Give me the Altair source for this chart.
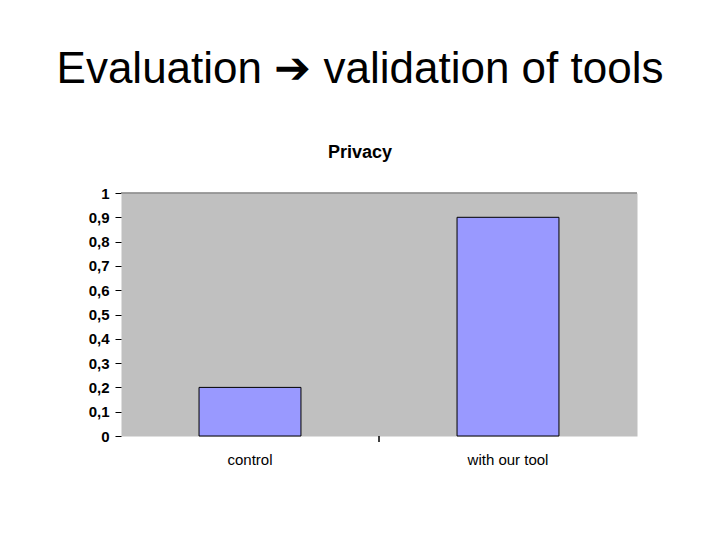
import altair as alt
import pandas as pd

categories = ["control", "with our tool"]
values = [0.2, 0.9]
y_ticks = [0, 0.1, 0.2, 0.3, 0.4, 0.5, 0.6, 0.7, 0.8, 0.9, 1]

df = pd.DataFrame({"cat": categories, "val": values})

FONT = "Liberation Sans"

bars = alt.Chart(df).mark_bar(color="#9999FF", stroke="#000000", strokeWidth=1).encode(
    x=alt.X("cat:N", sort=categories, title=None,
            scale=alt.Scale(paddingInner=0.605, paddingOuter=0.3025),
            axis=alt.Axis(labelAngle=0, labelFont=FONT, labelFontSize=15, labelColor="#000000",
                          labelPadding=16, ticks=False, domain=False)),
    y=alt.Y("val:Q", title=None,
            scale=alt.Scale(domain=[0, 1], nice=False),
            axis=alt.Axis(values=y_ticks, tickCount=11, grid=False, domain=False, tickSize=6,
                          tickColor="#000000",
                          labelFont=FONT, labelFontSize=15, labelFontWeight="bold", labelColor="#000000",
                          labelPadding=6, labelOverlap=False,
                          labelExpr="replace(format(datum.value, '~g'), '.', ',')")),
)

top_line = alt.Chart(df).mark_rule(color="#808080", strokeWidth=1).encode(y=alt.datum(1))

mid_tick = alt.Chart(df).mark_rule(color="#000000", strokeWidth=1).encode(
    x=alt.X(datum=0.5, scale=alt.Scale(domain=[0, 1]), axis=None),
    y=alt.value(243), y2=alt.value(249),
)

chart = alt.layer(bars, top_line, mid_tick).resolve_scale(x="independent").properties(
    width=516, height=243,
    padding={"left": 113, "top": 185, "right": 75, "bottom": 60},
    autosize=alt.AutoSizeParams(type="none"),
    background="#FFFFFF",
    title=alt.TitleParams(
        text="Evaluation ➔ validation of tools",
        subtitle="Privacy",
        font=FONT, fontSize=44, fontWeight="normal", color="#000000",
        subtitleFont=FONT, subtitleFontSize=18, subtitleFontWeight="bold", subtitleColor="#000000",
        subtitlePadding=52, anchor="middle", dx=-19, offset=24,
    ),
).configure_view(fill="#C0C0C0", strokeOpacity=0)

chart.save("out.html", embed_options={"renderer": "svg", "actions": False})
